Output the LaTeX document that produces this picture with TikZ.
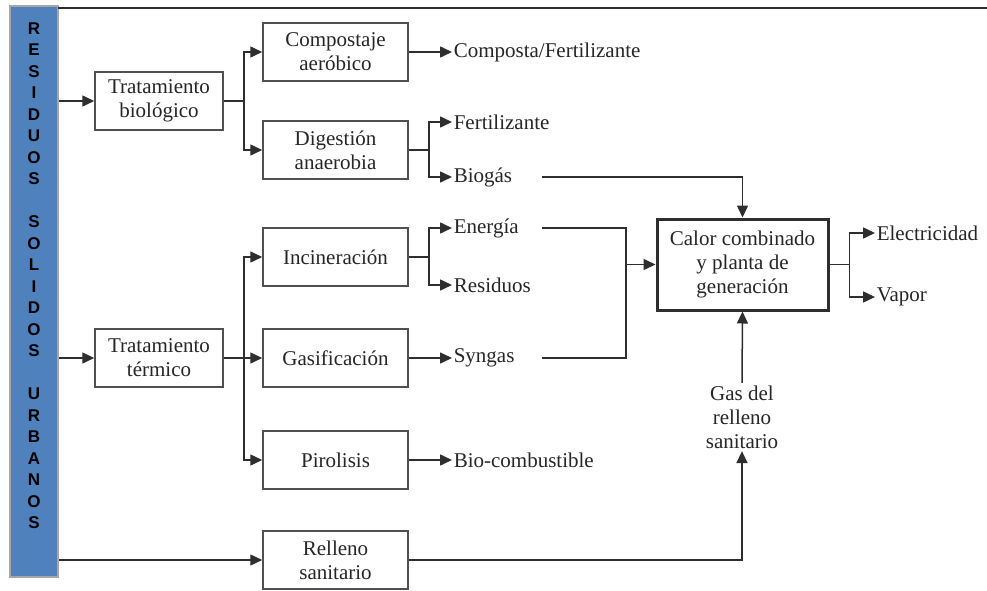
\documentclass[tikz,border=0pt]{standalone}
\usepackage{fontspec}
\setmainfont{Liberation Serif}
\setsansfont{Liberation Sans}
\usetikzlibrary{arrows.meta, positioning, calc}
\definecolor{cline}{HTML}{2E2E2E}
\definecolor{cbox}{HTML}{505050}
\definecolor{cbar}{HTML}{4F81BD}
\definecolor{cedge}{HTML}{A6A6A6}
\definecolor{ctext}{HTML}{262626}
\tikzset{
  every picture/.style={line width=1.5pt},
  box/.style={draw=cbox, fill=white, align=center, minimum width=145pt, minimum height=58pt, inner sep=2pt, text=ctext},
  bigbox/.style={box, draw=cline, line width=3pt, minimum width=171pt, minimum height=91pt},
  product/.style={anchor=west, inner sep=1pt, text=ctext},
  arrow/.style={-{Triangle[length=12pt, width=11pt]}, draw=cline},
  link/.style={draw=cline},
}
\begin{document}
\begin{tikzpicture}[x=1pt, y=-1pt, every node/.append style={font=\rmfamily\fontsize{21}{24}\selectfont}]
  \fill[white] (0,0) rectangle (987,591);
  \useasboundingbox (0,0) rectangle (987,591);
  % left bar and top rule
  \node[draw=cedge, fill=cbar, line width=2pt, minimum width=48pt, minimum height=571pt, inner sep=0pt] (bar) at (34,291.5) {};
  \node[align=center, inner sep=0pt, font=\sffamily\bfseries\fontsize{17}{21.5}\selectfont] (barlbl) at (34,275.5)
    {R\\E\\S\\I\\D\\U\\O\\S\\[21.5pt]S\\O\\L\\I\\D\\O\\S\\[21.5pt]U\\R\\B\\A\\N\\O\\S};
  \draw[cline] (58,8) -- (987,8);
  % treatments
  \node[box, minimum width=128pt] (tbio) at (159,101) {Tratamiento\\biológico};
  \node[box, minimum width=128pt] (tter) at (159,358) {Tratamiento\\térmico};
  \node[box] (comp) at (335.5,52) {Compostaje\\aeróbico};
  \node[box] (dig) at (335.5,150) {Digestión\\anaerobia};
  \node[box] (inc) at (335.5,257) {Incineración};
  \node[box] (gas) at (335.5,358) {Gasificación};
  \node[box] (piro) at (335.5,460) {Pirolisis};
  \node[box] (rell) at (335.5,560) {Relleno\\sanitario};
  \node[bigbox] (calor) at (742.5,264.5) {Calor combinado\\y planta de\\generación};
  % products
  \node[product] (compfert) at (452,52) {Composta/Fertilizante};
  \node[product] (fert) at (452,122) {Fertilizante};
  \node[product] (biogas) at (452,177) {Biogás};
  \node[product] (energia) at (452,228) {Energía};
  \node[product] (resid) at (452,285) {Residuos};
  \node[product] (syngas) at (452,358) {Syngas};
  \node[product] (biocomb) at (452,460) {Bio-combustible};
  \node[product] (elec) at (875,233) {Electricidad};
  \node[product] (vapor) at (875,297) {Vapor};
  \node[align=center, inner sep=2pt, text=ctext] (gasrs) at (742,417) {Gas del\\relleno\\sanitario};
  \coordinate (cx) at (542,0);
  \coordinate (mx) at (626,0);
  % connectors
  \draw[arrow] (bar.east |- tbio) -- (tbio.west);
  \draw[arrow] (bar.east |- tter) -- (tter.west);
  \draw[arrow] (bar.east |- rell) -- (rell.west);
  \draw[link] (tbio.east) -- ++(20,0) coordinate (jbio);
  \draw[arrow] (jbio) |- (comp.west);
  \draw[arrow] (jbio) |- (dig.west);
  \draw[link] (tter.east) -- ++(20,0) coordinate (jter);
  \draw[arrow] (jter) |- (inc.west);
  \draw[arrow] (jter) -- (gas.west);
  \draw[arrow] (jter) |- (piro.west);
  \draw[arrow] (comp.east) -- (compfert.west);
  \draw[link] (dig.east) -- ++(20,0) coordinate (jdig);
  \draw[arrow] (jdig) |- (fert.west);
  \draw[arrow] (jdig) |- (biogas.west);
  \draw[link] (inc.east) -- ++(20,0) coordinate (jinc);
  \draw[arrow] (jinc) |- (energia.west);
  \draw[arrow] (jinc) |- (resid.west);
  \draw[arrow] (gas.east) -- (syngas.west);
  \draw[arrow] (piro.east) -- (biocomb.west);
  \draw[arrow] (biogas -| cx) -| (calor.north);
  \draw[link] (energia -| cx) -- (energia -| mx) -- (syngas -| mx) -- (syngas -| cx);
  \draw[arrow] (mx |- calor) -- (calor.west);
  \draw[link] (calor.east) -- ++(20,0) coordinate (jcal);
  \draw[arrow] (jcal) |- (elec.west);
  \draw[arrow] (jcal) |- (vapor.west);
  \draw[arrow] (gasrs.north) -- (calor.south);
  \draw[arrow] (rell.east) -| (gasrs.south);
\end{tikzpicture}
\end{document}
